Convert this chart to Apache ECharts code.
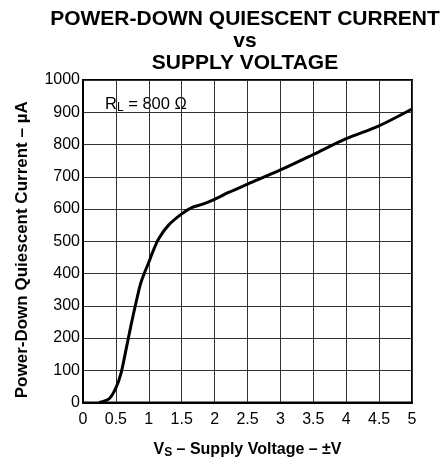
<!DOCTYPE html>
<html><head><meta charset="utf-8">
<script src="https://cdn.jsdelivr.net/npm/echarts@6/dist/echarts.min.js"></script>
<style>html,body{margin:0;padding:0;background:#fff}#c{width:445px;height:464px}</style>
</head><body><div id="c"></div>
<script>
var voltage = [0.245, 0.40, 0.50, 0.577, 0.65, 0.73, 0.806, 0.87, 0.93, 1.0, 1.06, 1.15, 1.30, 1.5, 1.66, 1.82, 2.0, 2.22, 2.5, 3.0, 3.5, 4.0, 4.5, 5.0];
var current = [0, 12, 45, 90, 160, 240, 310, 365, 400, 435, 467, 508, 550, 585, 605, 615, 630, 652, 677, 721, 769, 818, 858, 910];
var titleLines = ['POWER-DOWN QUIESCENT CURRENT', 'vs', 'SUPPLY VOLTAGE'];
var xName = ['V', 'S', ' – Supply Voltage – ±V'];
var yName = 'Power-Down Quiescent Current – µA';
var legendParts = ['R', 'L', ' = 800 Ω'];

var F = '"Liberation Sans", Arial, Helvetica, sans-serif';
var chart = echarts.init(document.getElementById('c'), null, {renderer: 'canvas'});
var pts = voltage.map(function (v, i) { return [v, current[i]]; });
chart.setOption({
  animation: false,
  backgroundColor: '#fff',
  title: {
    text: titleLines.join('\n'), left: 240, top: 3, textAlign: 'center',
    textStyle: {fontFamily: F, fontSize: 21, fontWeight: 'bold', color: '#000', lineHeight: 22}
  },
  grid: {left: 83, right: 33, top: 80, bottom: 55, show: true, borderColor: '#000', borderWidth: 2, backgroundColor: 'transparent'},
  xAxis: {
    type: 'value', min: 0, max: 5, interval: 0.5,
    name: '{a|' + xName[0] + '}{s|' + xName[1] + '}{a|' + xName[2] + '}',
    nameLocation: 'middle', nameGap: 38,
    nameTextStyle: {rich: {
      a: {fontFamily: F, fontSize: 16, fontWeight: 'bold', color: '#000', lineHeight: 18},
      s: {fontFamily: F, fontSize: 12, fontWeight: 'bold', color: '#000', padding: [7, 0, 0, 0], lineHeight: 18}
    }},
    axisLine: {show: true, onZero: false, lineStyle: {color: '#000', width: 2}},
    axisTick: {show: false},
    axisLabel: {fontFamily: F, fontSize: 16, color: '#000', margin: 9},
    splitLine: {show: true, lineStyle: {color: '#333', width: 1}}
  },
  yAxis: {
    type: 'value', min: 0, max: 1000, interval: 100,
    name: yName, nameLocation: 'middle', nameGap: 52,
    nameTextStyle: {fontFamily: F, fontSize: 17, fontWeight: 'bold', color: '#000', padding: [0, 17, 0, 0]},
    axisLine: {show: true, onZero: false, lineStyle: {color: '#000', width: 2}},
    axisTick: {show: false},
    axisLabel: {fontFamily: F, fontSize: 16, color: '#000', margin: 3, formatter: function (v) { return String(v); }},
    splitLine: {show: true, lineStyle: {color: '#333', width: 1}}
  },
  series: [{
    type: 'line', data: pts, smooth: 0.3, showSymbol: false,
    lineStyle: {color: '#000', width: 3}, z: 5
  }],
  graphic: [{
    type: 'group', z: 100,
    children: [
      {type: 'rect', shape: {x: 90, y: 90, width: 123, height: 28}, style: {fill: '#fff'}},
      {type: 'text', x: 105, y: 104, style: {
        text: '{a|' + legendParts[0] + '}{s|' + legendParts[1] + '}{a|' + legendParts[2] + '}',
        verticalAlign: 'middle',
        rich: {
          a: {fontFamily: F, fontSize: 16.5, color: '#000', lineHeight: 18},
          s: {fontFamily: F, fontSize: 12, color: '#000', padding: [7, 0, 0, 0], lineHeight: 18}
        }
      }}
    ]
  }]
});
</script></body></html>
